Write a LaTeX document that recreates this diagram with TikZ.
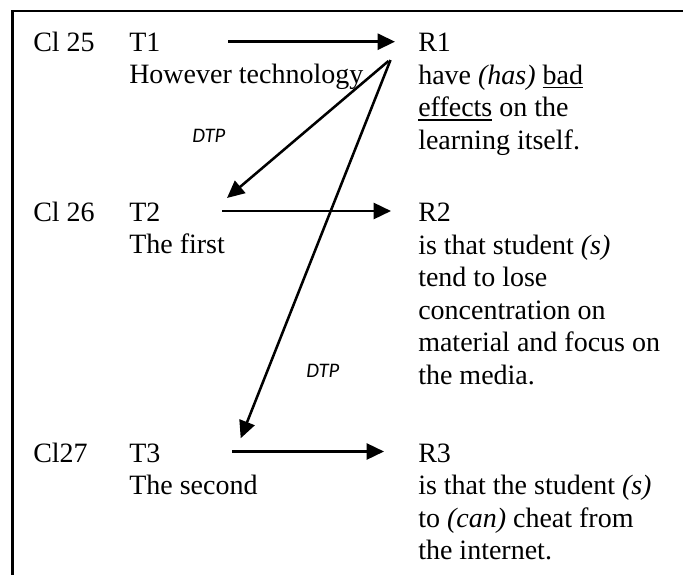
\documentclass[tikz,border=0pt]{standalone}
\usepackage{fontspec}
\setmainfont{Liberation Serif}
\newfontfamily\dtpfont{Carlito}
\usetikzlibrary{arrows.meta}
\newsavebox\myulbox
\newcommand{\myul}[1]{\sbox\myulbox{#1}\rlap{\rule[-3.2pt]{\wd\myulbox}{1.3pt}}\usebox\myulbox}
\begin{document}
\begin{tikzpicture}[x=0.75pt,y=-0.75pt,
  txt/.style={anchor=base west, inner sep=0pt, font=\fontsize{21}{24}\selectfont},
  lbl/.style={anchor=base west, inner sep=0pt, font=\dtpfont\itshape\fontsize{15.5}{18}\selectfont},
  conn/.style={line width=1.9pt, -{Triangle[length=13pt,width=12pt]}},
  frame/.style={line width=1.6pt}]
\useasboundingbox (0,0) rectangle (683,575);
% frame
\draw[frame] (12.5,575) -- (12.5,11) -- (683,11);
% row 1
\node[txt] (c1) at (33,51.5) {Cl 25};
\node[txt] (t1) at (129,51.5) {T1};
\node[txt] (t1a) at (129,83.5) {However technology};
\node[txt] (r1) at (418,51.5) {R1};
\node[txt] (r1a) at (418,84) {have \textit{(has)} \myul{bad}};
\node[txt] (r1b) at (418,116.5) {\myul{effects} on the};
\node[txt] (r1c) at (418,149) {learning itself.};
% row 2
\node[txt] (c2) at (33,221) {Cl 26};
\node[txt] (t2) at (129,221) {T2};
\node[txt] (t2a) at (129,253.5) {The first};
\node[txt] (r2) at (418,221) {R2};
\node[txt] (r2a) at (418,254) {is that student \textit{(s)}};
\node[txt] (r2b) at (418,286.5) {tend to lose};
\node[txt] (r2c) at (418,319) {concentration on};
\node[txt] (r2d) at (418,351.5) {material and focus on};
\node[txt] (r2e) at (418,384) {the media.};
% row 3
\node[txt] (c3) at (33,462) {Cl27};
\node[txt] (t3) at (129,462) {T3};
\node[txt] (t3a) at (129,494) {The second};
\node[txt] (r3) at (418,462) {R3};
\node[txt] (r3a) at (418,494.5) {is that the student \textit{(s)}};
\node[txt] (r3b) at (418,527) {to \textit{(can)} cheat from};
\node[txt] (r3c) at (418,559.5) {the internet.};
% labels
\node[lbl] (dtp1) at (192,142) {DTP};
\node[lbl] (dtp2) at (306,377) {DTP};
% connector end points
\coordinate (a1s) at (228,41.7);
\coordinate (a1e) at (395,41.7);
\coordinate (a2s) at (222,211);
\coordinate (a2e) at (391,211);
\coordinate (a3s) at (232,451.5);
\coordinate (a3e) at (384,451.5);
\coordinate (d1s) at (388.5,61);
\coordinate (d1e) at (227,198);
\coordinate (d2s) at (390.5,60);
\coordinate (d2e) at (240.7,438.3);
% connectors
\draw[conn] (a1s) -- (a1e);
\draw[conn] (a2s) -- (a2e);
\draw[conn] (a3s) -- (a3e);
\draw[conn] (d1s) -- (d1e);
\draw[conn] (d2s) -- (d2e);
\end{tikzpicture}
\end{document}
